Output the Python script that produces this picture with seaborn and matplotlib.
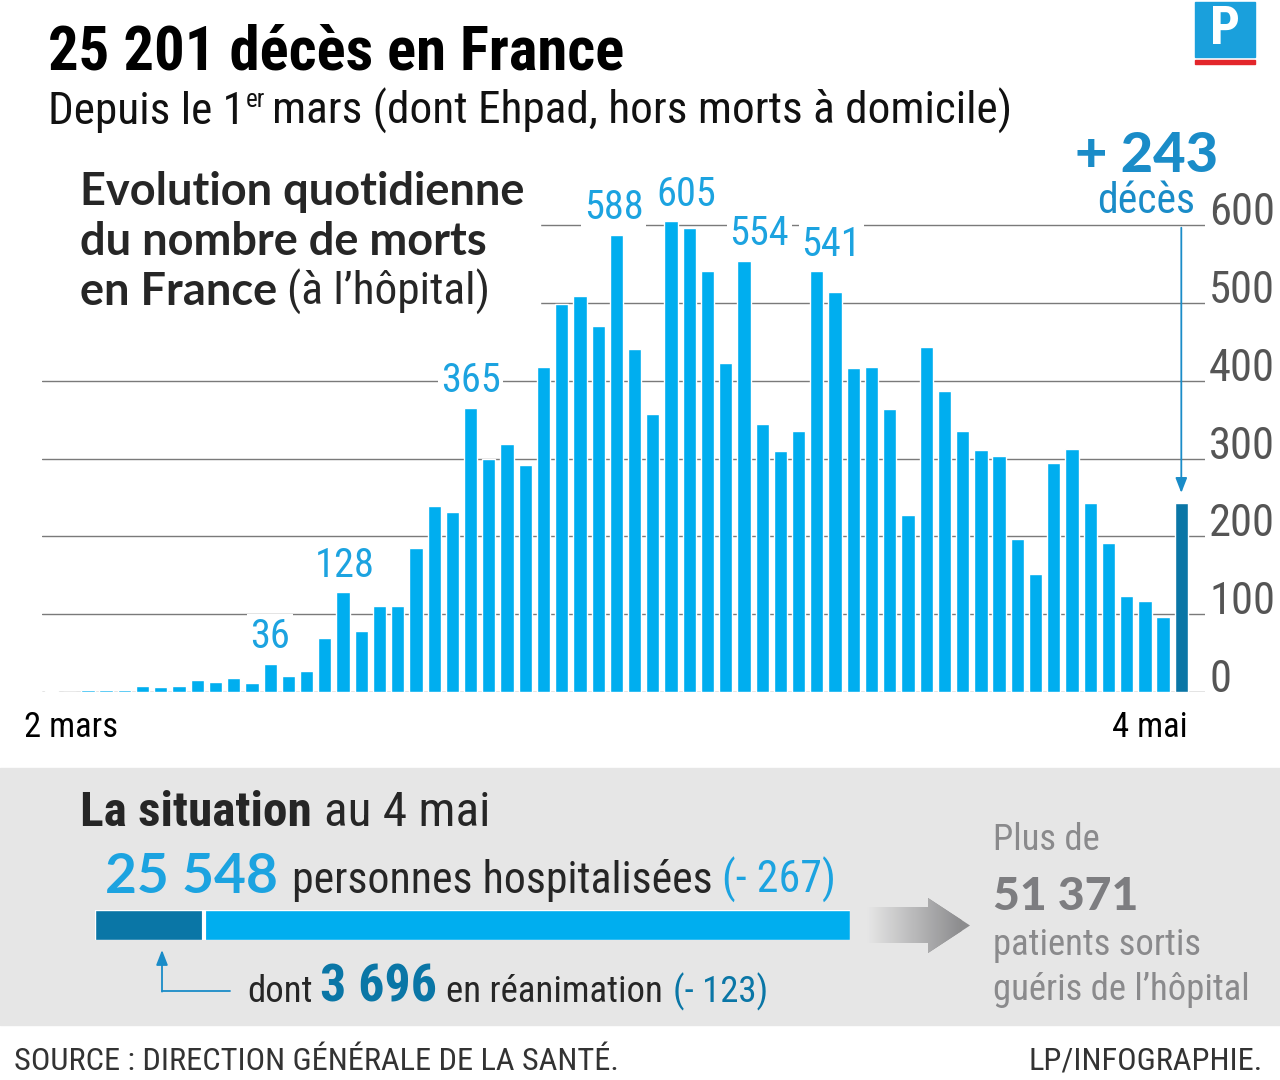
import numpy as np
import pandas as pd
import seaborn as sns
import matplotlib.pyplot as plt
from matplotlib.patches import Rectangle, Polygon
from matplotlib.lines import Line2D
from matplotlib.colors import LinearSegmentedColormap

# décès quotidiens à l'hôpital, du 2 mars au 4 mai
deces = [1, 0, 2, 3, 2, 8, 6, 8, 15, 13,
         18, 12, 36, 21, 27, 69, 128, 78, 111, 111,
         185, 239, 231, 365, 299, 319, 292, 418, 499, 509,
         471, 588, 441, 357, 605, 597, 541, 423, 554, 345,
         310, 335, 541, 514, 417, 418, 364, 227, 444, 387,
         335, 311, 304, 197, 152, 295, 313, 243, 191, 124,
         117, 96, 243]
jour_debut = "2 mars"
jour_fin = "4 mai"
barres_annotees = [12, 16, 23, 31, 34, 38, 42]
decalage_x = [0, 0.1, 0, -0.15, 0.85, 0.85, 0.8]
graduations = [0, 100, 200, 300, 400, 500, 600]

total_deces = 25201
hospitalises = 25548
hosp_variation = -267
reanimation = 3696
rea_variation = -123
gueris = 51371

BLEU = "#00aeef"
BLEU_FONCE = "#0a76a6"
BLEU_TEXTE = "#1ca3e0"
BLEU_243 = "#1a8cc8"
GRIS_FOND = "#e6e6e6"
GRIS_TXT = "#8a8a8c"

NARROW = ["Roboto Condensed", "Liberation Sans Narrow", "Roboto", "DejaVu Sans"]
WIDE = ["Lato", "Open Sans", "DejaVu Sans"]

sns.set_style("white")
plt.rcParams["font.family"] = NARROW


def nb(v):
    return f"{abs(v):,}".replace(",", " ")


def X(px):
    return px / 1280


def Y(py):
    return 1 - py / 1080


df = pd.DataFrame({
    "jour": np.arange(len(deces)),
    "deces": deces,
    "type": ["jour"] * (len(deces) - 1) + ["dernier"],
})

fig = plt.figure(figsize=(12.8, 10.8), dpi=100)
fig.patch.set_facecolor("white")
rend = fig.canvas.get_renderer()


def taille(s, largeur, **kw):
    # corps de police donnant la largeur voulue (en pixels)
    t = fig.text(0, 0, s, fontsize=30, **kw)
    fs = 30
    for _ in range(3):
        w = t.get_window_extent(rend).width
        fs = fs * largeur / w
        t.set_fontsize(fs)
    t.remove()
    return fs


# bandeau gris du bas
fig.patches.append(Rectangle((0, Y(1025)), 1, (1025 - 768) / 1080,
                             transform=fig.transFigure, color=GRIS_FOND, zorder=-5))

# --- histogramme principal
ax = fig.add_axes([X(42), Y(692), X(1205) - X(42), (692 - 161.6) / 1080])
sns.barplot(data=df, x="jour", y="deces", hue="type", hue_order=["jour", "dernier"],
            palette=[BLEU, BLEU_FONCE], dodge=False, legend=False, width=0.73,
            saturation=1, ax=ax)
ax.set_xlim(-0.52, 63.3)
ax.set_ylim(0, 682)
ax.set_axisbelow(True)
ax.set_yticks(graduations)
ax.yaxis.tick_right()
ax.tick_params(axis="y", length=0, pad=3, labelsize=taille("600", 66),
               labelcolor="#555555")
for lab in ax.get_yticklabels():
    lab.set_va("baseline")
ax.grid(axis="y", color="#7a7a7a", lw=1.0)
ax.set_xticks([])
ax.set_xlabel("")
ax.set_ylabel("")
sns.despine(ax=ax, left=True, bottom=True, right=True, top=True)

fs_jour = taille(jour_debut, 94)
ax.annotate(jour_debut, xy=(0, 0), xycoords=("data", "axes fraction"),
            xytext=(-27, -45), textcoords="offset pixels", ha="left", va="baseline",
            fontsize=fs_jour, color="black")
ax.annotate(jour_fin, xy=(len(deces) - 1, 0), xycoords=("data", "axes fraction"),
            xytext=(6, -45), textcoords="offset pixels", ha="right", va="baseline",
            fontsize=fs_jour, color="black")

# cadre blanc derrière le titre du graphique
ax.add_patch(Rectangle((X(42), Y(320)), X(540) - X(42), (320 - 150) / 1080,
                       transform=fig.transFigure, color="white", zorder=0.8, clip_on=False))

fs_val = taille("588", 60)
for i, dx in zip(barres_annotees, decalage_x):
    ax.text(i + dx, deces[i] + 35, str(deces[i]), ha="center", va="center",
            fontsize=fs_val, color=BLEU_TEXTE, zorder=3,
            bbox=dict(fc="white", ec="none", pad=2))

ax.annotate("", xy=(len(deces) - 1, deces[-1] + 13), xytext=(len(deces) - 1, 597),
            arrowprops=dict(arrowstyle="-|>,head_length=0.9,head_width=0.35",
                            color=BLEU_243, lw=1.3, shrinkA=0, shrinkB=0))

# --- calque de texte plein cadre
bg = fig.add_axes([0, 0, 1, 1], zorder=5)
bg.set_xlim(0, 1)
bg.set_ylim(0, 1)
bg.axis("off")


def suite(prev, s, y, gap=8, **kw):
    return bg.annotate(s, xy=(1, Y(y)), xycoords=(prev, "figure fraction"),
                       xytext=(gap, 0), textcoords="offset pixels",
                       va="baseline", ha="left", **kw)


titre = f"{nb(total_deces)} décès en France"
bg.text(X(48), Y(70), titre, fontsize=taille(titre, 577, fontweight="bold"),
        fontweight="bold", color="black", va="baseline")
sous_titre = "mars (dont Ehpad, hors morts à domicile)"
fs_st = taille(sous_titre, 740)
t1 = bg.text(X(48), Y(124), "Depuis le 1", fontsize=fs_st, color="#111111",
             va="baseline")
t2 = suite(t1, "er", 107, gap=1, fontsize=fs_st * 0.55, color="#111111")
suite(t2, sous_titre, 124, gap=7, fontsize=fs_st, color="#111111")

# logo
bg.add_patch(Rectangle((X(1195), Y(57)), X(60), 55 / 1080, color="#1aa0dc"))
bg.add_patch(Rectangle((X(1195), Y(64)), X(60), 4 / 1080, color="#e3262b"))
bg.text(X(1225), Y(30), "P", fontsize=38, fontweight="bold", color="white",
        ha="center", va="center")

# titre du graphique
fs_h = taille("Evolution quotidienne", 445, family=WIDE, fontweight="bold")
bg.text(X(80), Y(205), "Evolution quotidienne", family=WIDE, fontsize=fs_h,
        fontweight="bold", va="baseline")
bg.text(X(80), Y(255), "du nombre de morts", family=WIDE, fontsize=fs_h,
        fontweight="bold", va="baseline")
t = bg.text(X(80), Y(305), "en France", family=WIDE, fontsize=fs_h,
            fontweight="bold", va="baseline")
suite(t, "(à l’hôpital)", 305, gap=10, fontsize=taille("(à l’hôpital)", 203))

# dernier jour
plus = f"+ {deces[-1]}"
bg.text(X(1218), Y(172), plus, family=WIDE,
        fontsize=taille(plus, 143, family=WIDE, fontweight="black"),
        fontweight="black", color=BLEU_243, ha="right", va="baseline")
bg.text(X(1195), Y(213), "décès", fontsize=taille("décès", 98), color=BLEU_243,
        ha="right", va="baseline")

# --- bandeau situation
fs_sit = taille("La situation", 232, fontweight="bold")
t = bg.text(X(80), Y(826), "La situation", fontsize=fs_sit, fontweight="bold",
            va="baseline")
suite(t, "au 4 mai", 826, gap=12, fontsize=fs_sit)

t = bg.text(X(105), Y(893), nb(hospitalises), family=WIDE,
            fontsize=taille(nb(hospitalises), 173, family=WIDE, fontweight="bold"),
            fontweight="bold", color=BLEU_TEXTE, va="baseline")
fs_p = taille("personnes hospitalisées", 420)
t = suite(t, "personnes hospitalisées", 893, gap=14, fontsize=fs_p)
suite(t, f"(- {nb(hosp_variation)})", 893, gap=10, fontsize=fs_p, color=BLEU_TEXTE)

axh = fig.add_axes([X(95), Y(940), X(850) - X(95), 30 / 1080], zorder=2)
sns.barplot(x=[hospitalises], y=["h"], color=BLEU, saturation=1, width=1,
            orient="h", ax=axh)
sns.barplot(x=[reanimation], y=["h"], color=BLEU_FONCE, saturation=1, width=1,
            orient="h", ax=axh)
axh.axvline(reanimation, color="white", lw=3)
axh.set_xlim(0, hospitalises)
axh.axis("off")

bg.add_line(Line2D([X(162), X(230)], [Y(991), Y(991)], color=BLEU_243, lw=1.3))
bg.annotate("", xy=(X(162), Y(950)), xytext=(X(162), Y(991.6)),
            arrowprops=dict(arrowstyle="-|>,head_length=0.9,head_width=0.35",
                            color=BLEU_243, lw=1.3, shrinkA=0, shrinkB=0))

fs_d = taille("en réanimation", 217)
t = bg.text(X(247), Y(1002), "dont", fontsize=fs_d, va="baseline")
t = suite(t, nb(reanimation), 1002, gap=8,
          fontsize=taille(nb(reanimation), 117, fontweight="bold"),
          fontweight="bold", color=BLEU_FONCE)
t = suite(t, "en réanimation", 1002, gap=9, fontsize=fs_d)
suite(t, f"(- {nb(rea_variation)})", 1002, gap=10, fontsize=fs_d, color=BLEU_FONCE)

# flèche grise en dégradé
axa = fig.add_axes([X(865), Y(955), X(975) - X(865), 60 / 1080], zorder=2)
axa.set_xlim(865, 975)
axa.set_ylim(955, 895)
axa.axis("off")
grad = LinearSegmentedColormap.from_list("g", [GRIS_FOND, "#8c8c8e"])
img = axa.imshow(np.linspace(0, 1, 200)[None, :], extent=(867, 962, 955, 895),
                 cmap=grad, aspect="auto")
fleche = Polygon([(867, 907), (928, 907), (928, 898), (970, 925.5), (928, 953),
                  (928, 943), (867, 943)], closed=True, fc="none", ec="none")
axa.add_patch(fleche)
img.set_clip_path(fleche)
axa.add_patch(Polygon([(928, 898), (970, 925.5), (928, 953)], closed=True,
                      fc="#8c8c8e", ec="none", zorder=0.5))
img.set_zorder(1)

fs_g = taille("guéris de l’hôpital", 257)
bg.text(X(993), Y(850), "Plus de", fontsize=fs_g, color=GRIS_TXT, va="baseline")
bg.text(X(993), Y(910), nb(gueris), family=WIDE,
        fontsize=taille(nb(gueris), 145, family=WIDE, fontweight="black"),
        fontweight="black", color="#7d7d80", va="baseline")
bg.text(X(993), Y(955), "patients sortis", fontsize=fs_g, color=GRIS_TXT, va="baseline")
bg.text(X(993), Y(1000), "guéris de l’hôpital", fontsize=fs_g, color=GRIS_TXT,
        va="baseline")

# pied
source = "SOURCE : DIRECTION GÉNÉRALE DE LA SANTÉ."
fs_s = taille(source, 603)
bg.text(X(14), Y(1070), source, fontsize=fs_s, color="#333333", va="baseline")
bg.text(X(1263), Y(1070), "LP/INFOGRAPHIE.", fontsize=fs_s, color="#333333",
        ha="right", va="baseline")

plt.savefig("out.png", dpi=100)
